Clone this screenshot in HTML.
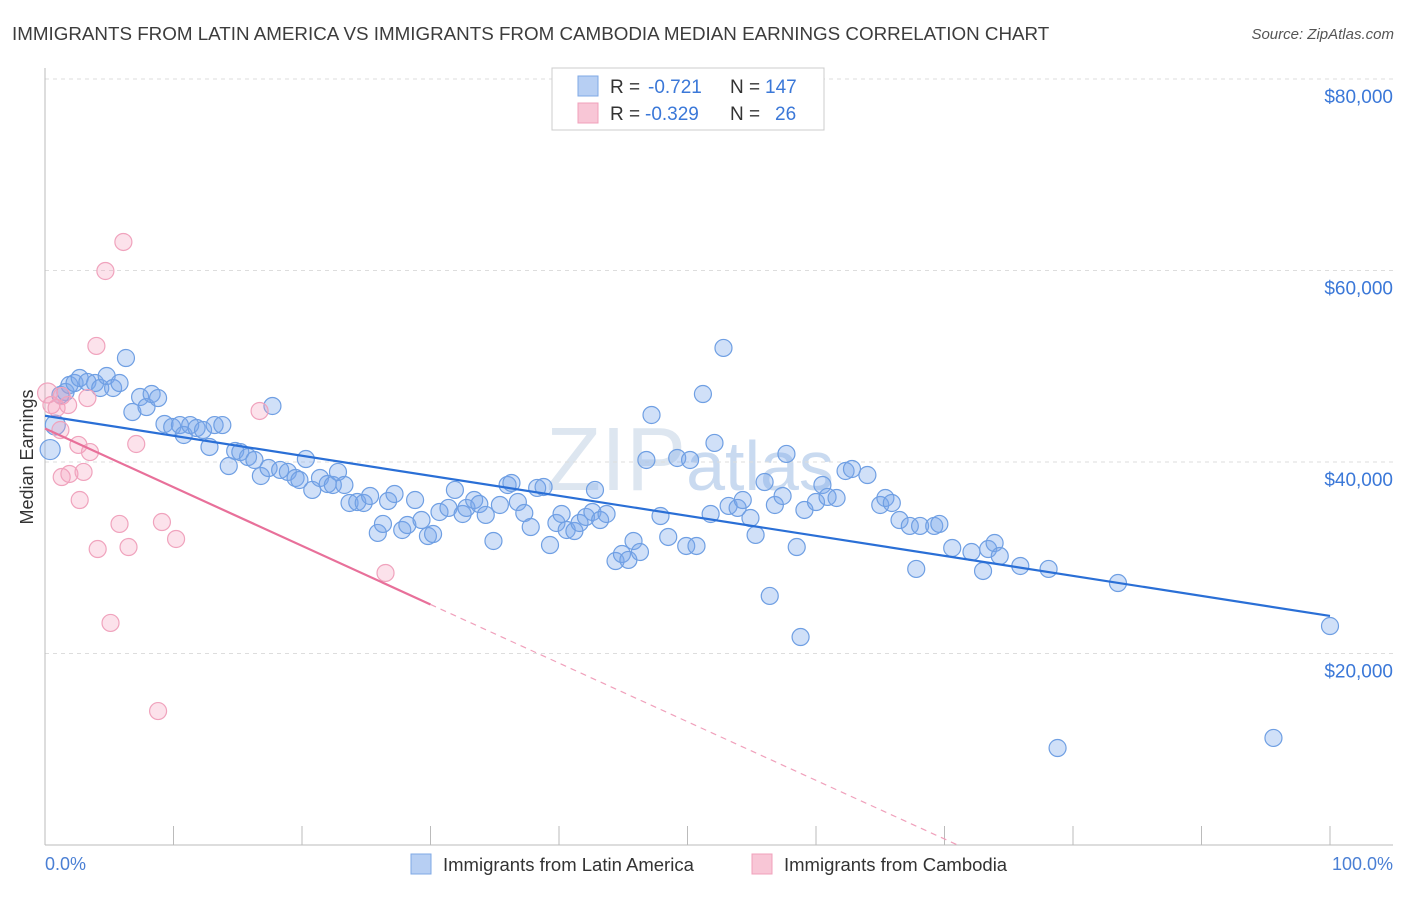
<!DOCTYPE html>
<html><head><meta charset="utf-8"><style>
body{margin:0;background:#fff;font-family:"Liberation Sans",sans-serif}
svg text{font-family:"Liberation Sans",sans-serif}
</style></head><body>
<svg id="chart" width="1406" height="892" viewBox="0 0 1406 892" xmlns="http://www.w3.org/2000/svg">
<text x="12" y="40" font-size="18.8" fill="#3c3c3c">IMMIGRANTS FROM LATIN AMERICA VS IMMIGRANTS FROM CAMBODIA MEDIAN EARNINGS CORRELATION CHART</text>
<text x="1394" y="39" font-size="15" fill="#555" font-style="italic" text-anchor="end">Source: ZipAtlas.com</text>
<text x="690" y="490" font-size="90" fill="#dde6f0" text-anchor="middle" font-family="Liberation Serif">ZIP<tspan font-family="Liberation Sans" font-size="70" fill="#c9daf0">atlas</tspan></text>
<g id="grid"></g>
<line x1="45" y1="68" x2="45" y2="845" stroke="#bbb"/>
<line x1="45" y1="845" x2="1393" y2="845" stroke="#bbb"/>
<g id="xticks"></g>
<text transform="translate(33,457) rotate(-90)" font-size="18" fill="#333" text-anchor="middle">Median Earnings</text>
<text x="45" y="870" font-size="18" fill="#4a7fd4">0.0%</text>
<text x="1393" y="870" font-size="18" fill="#4a7fd4" text-anchor="end">100.0%</text>
<g id="pts"></g>
<g id="trends"></g>
<g>
<rect x="552" y="68" width="272" height="62" fill="#fff" stroke="#ccc"/>
<rect x="578" y="76" width="20" height="20" fill="#b7cff3" stroke="#7fa8e6"/>
<rect x="578" y="103" width="20" height="20" fill="#f8c6d6" stroke="#f0a0bb"/>
<text x="610" y="93" font-size="19" fill="#333">R =</text>
<text x="648" y="93" font-size="19" fill="#3b78d8">-0.721</text>
<text x="730" y="93" font-size="19" fill="#333">N =</text>
<text x="765" y="93" font-size="19" fill="#3b78d8">147</text>
<text x="610" y="120" font-size="19" fill="#333">R =</text>
<text x="645" y="120" font-size="19" fill="#3b78d8">-0.329</text>
<text x="730" y="120" font-size="19" fill="#333">N =</text>
<text x="775" y="120" font-size="19" fill="#3b78d8">26</text>
</g>
<g>
<rect x="411" y="854" width="20" height="20" fill="#b7cff3" stroke="#7fa8e6"/>
<text x="443" y="871" font-size="18.5" fill="#333">Immigrants from Latin America</text>
<rect x="752" y="854" width="20" height="20" fill="#f8c6d6" stroke="#f0a0bb"/>
<text x="784" y="871" font-size="18.5" fill="#333">Immigrants from Cambodia</text>
</g>
</svg>
<script>
const blueX=[0.4,0.8,1.2,1.6,1.9,2.3,2.7,3.3,3.9,4.3,4.8,5.3,5.8,6.3,6.8,7.4,7.9,8.3,8.8,9.3,9.9,10.5,10.8,11.3,11.8,12.3,12.8,13.2,13.8,14.3,14.8,15.2,15.8,16.3,16.8,17.4,17.7,18.3,18.9,19.5,19.8,20.3,20.8,21.4,22.0,22.4,22.8,23.3,23.7,24.3,24.8,25.3,25.9,26.3,26.7,27.2,27.8,28.2,28.8,29.3,29.8,30.2,30.7,31.4,31.9,32.5,32.8,33.4,33.8,34.3,34.9,35.4,36.0,36.3,36.8,37.3,37.8,38.3,38.8,39.3,39.8,40.2,40.6,41.2,41.6,42.1,42.6,42.8,43.2,43.7,44.4,44.9,45.4,45.8,46.3,46.8,47.2,47.9,48.5,49.2,49.9,50.2,50.7,51.2,51.8,52.1,52.8,53.2,53.9,54.3,54.9,55.3,56.0,56.4,56.8,57.4,57.7,58.5,58.8,59.1,60.0,60.5,60.9,61.6,62.3,62.8,64.0,65.0,65.4,65.9,66.5,67.3,67.8,68.1,69.2,69.6,70.6,72.1,73.0,73.4,73.9,74.3,75.9,78.1,78.8,83.5,95.6,100];
const blueY=[41300,43860,47000,47310,48040,48250,48770,48360,48250,47730,48980,47730,48250,50860,45220,46790,45740,47100,46680,43970,43660,43860,42820,43860,43550,43340,41570,43860,43860,39580,41150,41040,40520,40210,38540,39370,45850,39170,38960,38330,38120,40310,37080,38330,37700,37600,38960,37600,35720,35820,35720,36450,32590,33530,35930,36660,32900,33420,36030,33940,32270,32480,34780,35200,37080,34570,35200,36030,35610,34470,31750,35510,37600,37810,35820,34670,33210,37290,37390,31330,33630,34570,32900,32790,33630,34260,34780,37080,33940,34570,29660,30390,29770,31750,30600,40210,44910,34360,32170,40420,31230,40210,31230,47100,34570,41990,51910,35410,35200,36030,34150,32380,37910,26010,35510,36450,40840,31120,21720,34990,35820,37600,36350,36240,39060,39270,38640,35510,36240,35720,33940,33320,28830,33320,33320,33530,31020,30600,28620,30910,31540,30180,29140,28830,10130,27360,11180,22870];
const pinkX=[0.2,0.5,0.9,1.3,1.8,1.3,1.9,2.6,2.7,3.0,3.3,3.5,4.0,4.1,4.7,5.1,5.8,6.1,6.5,7.1,8.8,9.1,10.2,16.7,26.5,1.2];
const pinkY=[47210,45950,45640,46890,45950,38430,38750,41780,36030,38960,46680,41040,52120,30910,59950,23190,33530,62980,31120,41880,13990,33730,31960,45330,28410,43340];
const yTicks=[20000,40000,60000,80000];
const yTickLabels=["$20,000","$40,000","$60,000","$80,000"];

const NS="http://www.w3.org/2000/svg";
const X0=45,X1=1330,Y0=845,PX20K=191.5;
const sx=v=>X0+(X1-X0)*v/100;
const sy=v=>Y0-v/20000*PX20K;
function mk(tag,attrs,parent){const e=document.createElementNS(NS,tag);for(const k in attrs)e.setAttribute(k,attrs[k]);parent.appendChild(e);return e;}
const grid=document.getElementById('grid');
yTicks.forEach((t,i)=>{
  const l=mk('line',{x1:45,x2:1393,y1:sy(t),y2:sy(t),stroke:'#ddd','stroke-dasharray':'4,4'},grid);
  
  
  const tx=mk('text',{x:1393,y:sy(t)+24,'font-size':19,fill:'#3b78d8','text-anchor':'end'},grid);
  tx.textContent=yTickLabels[i];
  
  
});
const xt=document.getElementById('xticks');
for(let i=0;i<=10;i++){const l=mk('line',{x1:sx(i*10),x2:sx(i*10),y1:826,y2:845,stroke:'#bbb'},xt);
  
  }
const pts=document.getElementById('pts');
blueX.forEach((x,i)=>{const c=mk('circle',{cx:sx(x),cy:sy(blueY[i]),r:x<1?10:8.5,fill:'rgba(120,165,235,0.35)',stroke:'#6f9fe3','stroke-width':1.2},pts);
  
  });
pinkX.forEach((x,i)=>{const c=mk('circle',{cx:sx(x),cy:sy(pinkY[i]),r:x<0.5?10:8.5,fill:'rgba(245,160,190,0.3)',stroke:'#f0a3bd','stroke-width':1.2},pts);
  
  });
function fit(xs,ys){const n=xs.length;let mx=0,my=0;xs.forEach((x,i)=>{mx+=x;my+=ys[i]});mx/=n;my/=n;let sxy=0,sxx=0;xs.forEach((x,i)=>{sxy+=(x-mx)*(ys[i]-my);sxx+=(x-mx)**2});const b=sxy/sxx;return [my-b*mx,b];}
const tr=document.getElementById('trends');
const [ba,bb]=fit(blueX,blueY);
const bl=mk('line',{x1:sx(0),y1:sy(ba),x2:sx(100),y2:sy(ba+bb*100),stroke:'#2a6fd6','stroke-width':2.2},tr);


const [pa,pb]=fit(pinkX,pinkY);
const pmax=30, pend=Math.min(100,-pa/pb);
const pl=mk('line',{x1:sx(0),y1:sy(pa),x2:sx(pmax),y2:sy(pa+pb*pmax),stroke:'#e8709a','stroke-width':2.2},tr);


const pd=mk('line',{x1:sx(pmax),y1:sy(pa+pb*pmax),x2:sx(pend),y2:sy(pa+pb*pend),stroke:'#f0a0bb','stroke-width':1.2,'stroke-dasharray':'6,5'},tr);


</script>
</body></html>
